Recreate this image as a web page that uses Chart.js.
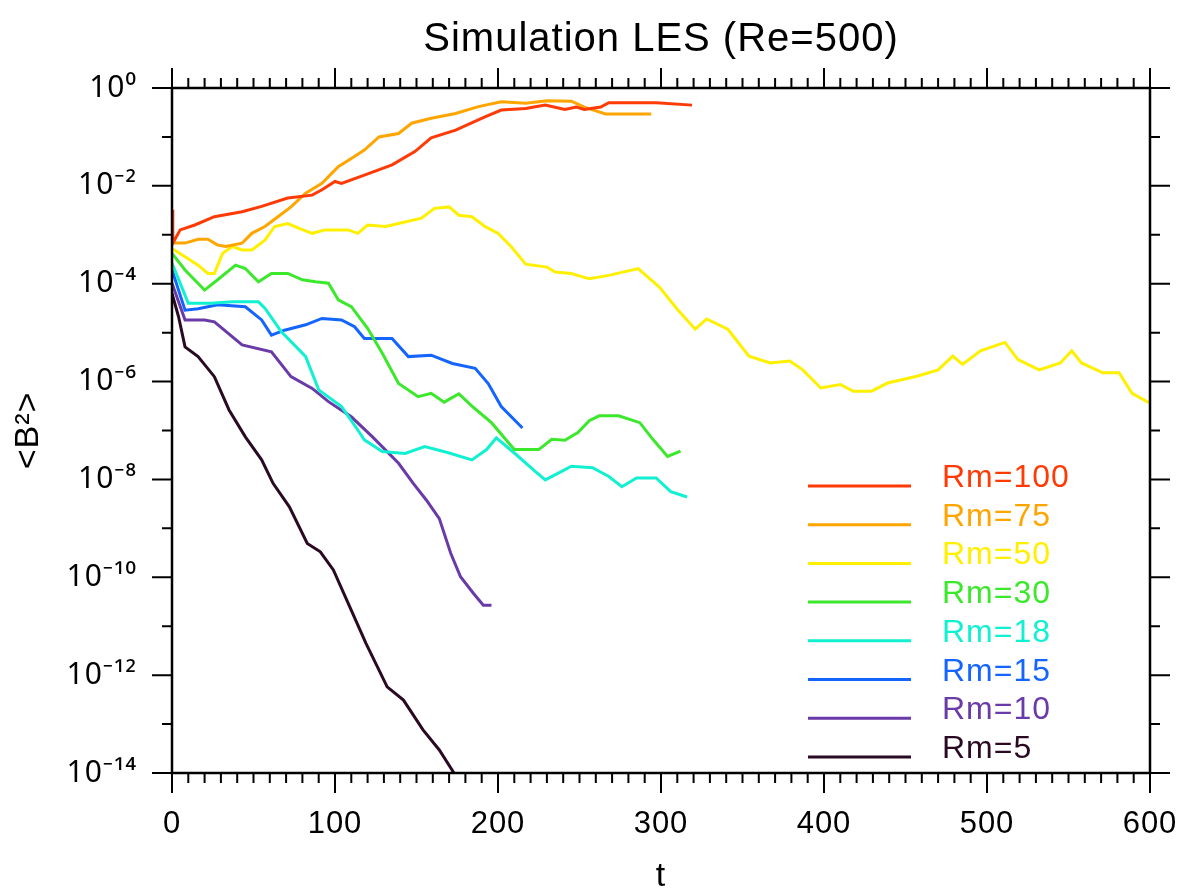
<!DOCTYPE html>
<html>
<head>
<meta charset="utf-8">
<style>
  html, body { margin: 0; padding: 0; background: #fff; }
</style>
</head>
<body>
<canvas id="chart" width="1180" height="890"></canvas>
<script src="https://cdn.jsdelivr.net/npm/chart.js"></script>
<script>
    // ▼ 데이터: t 와 log10<B^2>
    const tRm100 = [0, 0.5, 5, 14, 26, 43, 55, 71, 86, 92, 100, 104, 118, 135, 149, 159, 174, 192, 202, 217, 229, 241, 248, 253, 263, 268, 297, 319];
    const bRm100 = [-2.49, -3.17, -2.90, -2.80, -2.63, -2.53, -2.42, -2.25, -2.19, -2.08, -1.91, -1.95, -1.78, -1.57, -1.30, -1.02, -0.86, -0.59, -0.45, -0.42, -0.35, -0.44, -0.39, -0.44, -0.39, -0.30, -0.30, -0.35];

    const tRm75 = [0, 8, 16, 22, 28, 33, 43, 49, 57, 65, 73, 82, 92, 102, 110, 118, 127, 139, 147, 159, 174, 188, 202, 217, 230, 245, 253, 266, 294];
    const bRm75 = [-3.17, -3.17, -3.09, -3.09, -3.21, -3.24, -3.17, -2.97, -2.83, -2.63, -2.43, -2.15, -1.95, -1.61, -1.44, -1.27, -1.00, -0.93, -0.72, -0.62, -0.52, -0.38, -0.28, -0.31, -0.26, -0.27, -0.39, -0.53, -0.53];

    const tRm50 = [0, 8, 16, 22, 26, 31, 37, 43, 49, 57, 63, 71, 78, 86, 94, 108, 114, 120, 131, 139,
                   153, 161, 170, 176, 184, 192, 200, 208, 217, 230, 235, 245, 256, 268, 286, 299, 310, 321, 328, 341,
                   354, 367, 379, 387, 398, 410, 418, 429, 439, 457, 470, 479, 485, 496, 511, 519, 532, 545, 552, 558,
                   571, 581, 589, 600];
    const bRm50 = [-3.28, -3.45, -3.62, -3.79, -3.79, -3.38, -3.24, -3.31, -3.31, -3.11, -2.83, -2.77, -2.87, -2.97, -2.90, -2.90, -2.97, -2.80, -2.83, -2.77,
                   -2.66, -2.46, -2.43, -2.60, -2.63, -2.83, -2.97, -3.24, -3.60, -3.66, -3.76, -3.79, -3.90, -3.83, -3.69, -4.07, -4.52, -4.93, -4.72, -4.93,
                   -5.48, -5.62, -5.58, -5.76, -6.13, -6.06, -6.20, -6.20, -6.03, -5.89, -5.76, -5.48, -5.65, -5.37, -5.20, -5.55, -5.76, -5.62, -5.37, -5.62,
                   -5.82, -5.82, -6.24, -6.44];

    const tRm30 = [0, 8, 20, 28, 39, 45, 53, 61, 71, 80, 88, 96, 102, 110, 120, 129, 139, 151, 159, 167,
                   176, 185, 196, 210, 225, 233, 241, 249, 256, 262, 274, 287, 295, 304, 312];
    const bRm30 = [-3.38, -3.72, -4.13, -3.92, -3.62, -3.69, -3.96, -3.79, -3.79, -3.92, -3.96, -3.99, -4.33, -4.47, -4.91, -5.42, -6.04, -6.31, -6.24, -6.42,
                   -6.25, -6.53, -6.84, -7.39, -7.39, -7.18, -7.20, -7.04, -6.80, -6.70, -6.70, -6.84, -7.18, -7.53, -7.42];

    const tRm18 = [0, 10, 24, 37, 53, 57, 67, 82, 90, 104, 114, 118, 129, 143, 155, 169, 184, 193, 199, 210,
                   223, 229, 237, 245, 258, 268, 276, 285, 297, 306, 316];
    const bRm18 = [-3.58, -4.40, -4.40, -4.37, -4.37, -4.50, -4.98, -5.49, -6.17, -6.51, -6.99, -7.19, -7.43, -7.47, -7.33, -7.45, -7.60, -7.39, -7.15, -7.46,
                   -7.84, -8.01, -7.87, -7.73, -7.76, -7.94, -8.15, -7.97, -7.97, -8.25, -8.36];

    const tRm15 = [0, 8, 16, 28, 45, 55, 61, 69, 82, 92, 104, 112, 118, 135, 145, 159, 172, 186, 194, 202, 215];
    const bRm15 = [-3.72, -4.54, -4.51, -4.43, -4.47, -4.74, -5.05, -4.95, -4.84, -4.71, -4.74, -4.88, -5.12, -5.12, -5.49, -5.46, -5.63, -5.73, -6.04, -6.51, -6.95];

    const tRm10 = [0, 8, 20, 26, 43, 61, 73, 86, 96, 110, 123, 139, 148, 156, 164, 171, 177, 185, 191, 196];
    const bRm10 = [-3.99, -4.74, -4.74, -4.78, -5.25, -5.39, -5.90, -6.14, -6.41, -6.72, -7.13, -7.67, -8.08, -8.42, -8.80, -9.51, -9.99, -10.33, -10.57, -10.57];

    const tRm5 = [0, 4, 8, 16, 26, 35, 45, 55, 62, 72, 83, 91, 99, 109, 119, 132, 142, 154, 164, 173];
    const bRm5 = [-4.20, -4.67, -5.29, -5.49, -5.90, -6.58, -7.13, -7.60, -8.08, -8.56, -9.31, -9.48, -9.85, -10.60, -11.35, -12.24, -12.51, -13.12, -13.53, -14.00];

    const seriesLabels = ['Rm=100', 'Rm=75', 'Rm=50', 'Rm=30', 'Rm=18', 'Rm=15', 'Rm=10', 'Rm=5'];
    const seriesT = [tRm100, tRm75, tRm50, tRm30, tRm18, tRm15, tRm10, tRm5];
    const seriesB = [bRm100, bRm75, bRm50, bRm30, bRm18, bRm15, bRm10, bRm5];
    const seriesColors = ['#ff3a05', '#ffa500', '#fff000', '#3ce82c', '#12f0d2', '#1464ff', '#6a3aa8', '#2a0a22'];

    // ▼ 축 눈금 (t 는 선형, <B^2> 는 지수)
    const xMajorTicks = [0, 100, 200, 300, 400, 500, 600];
    const yExponents = [0, -2, -4, -6, -8, -10, -12, -14];

    const FONT = '"Liberation Sans", Arial, sans-serif';
    const SUP_FONT = '"Noto Sans", "DejaVu Sans", sans-serif';
    const SUP = { '0': '⁰', '1': '¹', '2': '²', '3': '³', '4': '⁴', '5': '⁵', '6': '⁶', '7': '⁷', '8': '⁸', '9': '⁹', '-': '⁻' };
    const toSup = s => String(s).split('').map(c => SUP[c] || c).join('');

    // ▼ 축 테두리, 바깥쪽 눈금, 범례를 그리는 플러그인
    const frameAndLegend = {
        id: 'frameAndLegend',
        beforeDraw(chart) {
            chart.ctx.letterSpacing = '1px';
        },
        afterDraw(chart) {
            const { ctx, chartArea: a, scales: { x, y } } = chart;
            ctx.save();
            ctx.strokeStyle = '#000';
            ctx.lineWidth = 2.5;
            ctx.strokeRect(a.left, a.top, a.right - a.left, a.bottom - a.top);

            ctx.lineWidth = 2;
            ctx.beginPath();
            for (let t = 0; t <= 600; t += 10) {
                const px = x.getPixelForValue(t);
                const len = xMajorTicks.includes(t) ? 20 : 10;
                ctx.moveTo(px, a.top); ctx.lineTo(px, a.top - len);
                ctx.moveTo(px, a.bottom); ctx.lineTo(px, a.bottom + len);
            }
            for (let e = 0; e >= -14; e--) {
                const py = y.getPixelForValue(e);
                const len = yExponents.includes(e) ? 20 : 10;
                ctx.moveTo(a.left, py); ctx.lineTo(a.left - len, py);
                ctx.moveTo(a.right, py); ctx.lineTo(a.right + len, py);
            }
            ctx.stroke();

            // 범례
            ctx.font = '32px ' + FONT;
            ctx.textAlign = 'left';
            ctx.textBaseline = 'alphabetic';
            ctx.lineWidth = 3;
            seriesLabels.forEach((label, i) => {
                const ly = 486 + i * 38.7;
                ctx.strokeStyle = seriesColors[i];
                ctx.beginPath();
                ctx.moveTo(808, ly); ctx.lineTo(911, ly);
                ctx.stroke();
                ctx.fillStyle = seriesColors[i];
                ctx.fillText(label, 942, ly + 1);
            });
            ctx.restore();
        }
    };

    const ctx = document.getElementById('chart').getContext('2d');
    new Chart(ctx, {
        type: 'line',
        data: {
            datasets: seriesLabels.map((label, i) => ({
                label,
                data: seriesT[i].map((t, k) => ({ x: t, y: seriesB[i][k] })),
                borderColor: seriesColors[i],
                backgroundColor: seriesColors[i],
                borderWidth: 3,
                pointRadius: 0,
                tension: 0,
                fill: false
            }))
        },
        options: {
            responsive: false,
            animation: false,
            layout: { padding: { left: 0, right: 30, top: 0, bottom: 0 } },
            plugins: {
                legend: { display: false },
                tooltip: { enabled: false },
                title: {
                    display: true,
                    fullSize: false,
                    text: 'Simulation LES (Re=500)',
                    color: '#000',
                    font: { family: FONT, size: 40, weight: 'normal', lineHeight: 1.2 },
                    padding: { top: 16, bottom: 24 }
                }
            },
            scales: {
                x: {
                    type: 'linear',
                    min: 0,
                    max: 600,
                    grid: { display: false },
                    border: { display: false },
                    afterFit: s => { s.height = 117; s.paddingLeft = 0; s.paddingRight = 0; },
                    afterBuildTicks: s => { s.ticks = xMajorTicks.map(v => ({ value: v })); },
                    ticks: {
                        color: '#000',
                        padding: 25,
                        maxRotation: 0,
                        font: { family: FONT, size: 31 },
                        callback: v => String(v)
                    },
                    title: {
                        display: true,
                        text: 't',
                        color: '#000',
                        font: { family: FONT, size: 34, lineHeight: 0.8 },
                        padding: { top: 0, bottom: 0 }
                    }
                },
                y: {
                    type: 'linear',
                    min: -14,
                    max: 0,
                    grid: { display: false },
                    border: { display: false },
                    afterFit: s => { s.width = 172; },
                    afterBuildTicks: s => { s.ticks = yExponents.map(v => ({ value: v })); },
                    ticks: {
                        color: '#000',
                        padding: 27,
                        font: { family: SUP_FONT, size: 30 },
                        callback: v => '10' + toSup(v)
                    },
                    title: {
                        display: true,
                        text: '<B²>',
                        color: '#000',
                        font: { family: FONT, size: 34, lineHeight: 1.0 },
                        padding: { top: 12, bottom: 0 }
                    }
                }
            }
        },
        plugins: [frameAndLegend]
    });
</script>
</body>
</html>
